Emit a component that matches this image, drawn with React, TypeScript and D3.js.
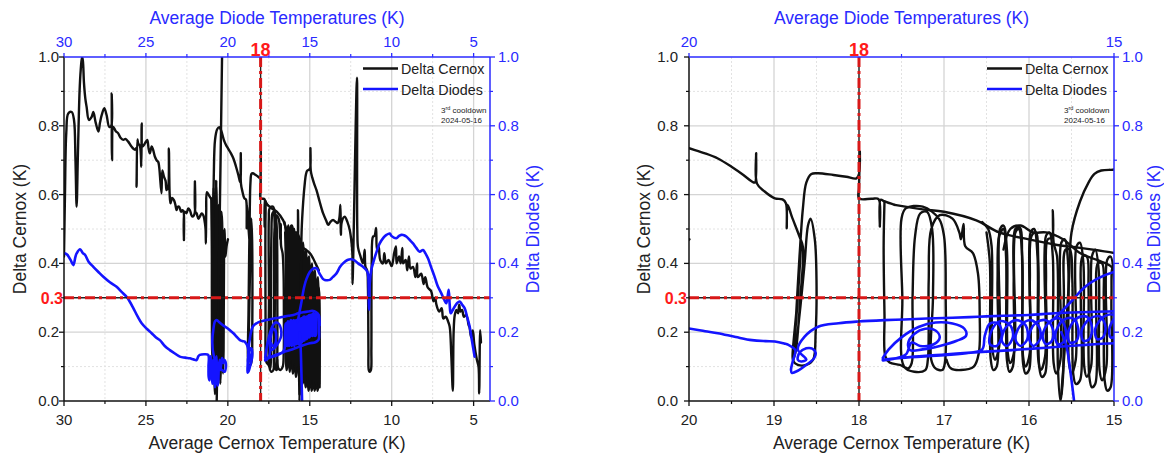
import React from 'react';
import * as d3 from 'd3';

type P = [number, number];

// ---------- Delta Cernox (black) : [Average Cernox T (K), Delta (K)] ----------
const cernoxMain: P[] = [
  [30.0, 0.42], [29.94, 0.6], [29.86, 0.78], [29.74, 0.836], [29.53, 0.84], [29.39, 0.817], [29.3, 0.7], [29.23, 0.565],
  [29.15, 0.72], [29.05, 0.9], [28.98, 0.962], [28.9, 1.0], [28.85, 0.99], [28.78, 0.924], [28.7, 0.88], [28.62, 0.855],
  [28.48, 0.817], [28.31, 0.826], [28.21, 0.84], [28.07, 0.81], [27.9, 0.783], [27.8, 0.81], [27.7, 0.831], [27.54, 0.851],
  [27.4, 0.831], [27.24, 0.797], [27.12, 0.8], [27.09, 0.894], [27.07, 0.7], [26.99, 0.797], [26.85, 0.785], [26.69, 0.778],
  [26.55, 0.765], [26.38, 0.759], [26.25, 0.762], [26.08, 0.754], [25.87, 0.739], [25.67, 0.73], [25.6, 0.735], [25.57, 0.623],
  [25.52, 0.76], [25.47, 0.749], [25.36, 0.74], [25.28, 0.681], [25.26, 0.807], [25.2, 0.74], [25.06, 0.749], [24.92, 0.759],
  [24.84, 0.735], [24.76, 0.72], [24.65, 0.74], [24.56, 0.73], [24.45, 0.71], [24.35, 0.7], [24.25, 0.695], [24.19, 0.68],
  [24.05, 0.604], [24.0, 0.67], [23.9, 0.652], [23.8, 0.64], [23.74, 0.613], [23.65, 0.62], [23.6, 0.734], [23.55, 0.6],
  [23.5, 0.575], [23.4, 0.59], [23.29, 0.584], [23.2, 0.57], [23.13, 0.555], [23.05, 0.565], [22.97, 0.565], [22.85, 0.55],
  [22.76, 0.555], [22.7, 0.55], [22.68, 0.468], [22.64, 0.55], [22.52, 0.546], [22.42, 0.56], [22.32, 0.555], [22.22, 0.54],
  [22.15, 0.536], [22.03, 0.545], [22.01, 0.638], [21.98, 0.55], [21.91, 0.546], [21.8, 0.53], [21.71, 0.536], [21.6, 0.545],
  [21.5, 0.54], [21.4, 0.517], [21.36, 0.5], [21.34, 0.458], [21.32, 0.55], [21.28, 0.607], [21.18, 0.6], [21.05, 0.59], [21.01, 0.588],
];
const cernoxOsc: P[] = [
  [21.01, 0.588], [20.98, 0.45], [20.96, 0.15], [20.93, 0.12], [20.9, 0.35], [20.87, 0.62], [20.84, 0.58], [20.82, 0.25],
  [20.79, 0.02], [20.75, 0.04], [20.73, 0.35], [20.71, 0.64], [20.68, 0.58], [20.66, 0.2], [20.63, 0.06], [20.6, 0.08],
  [20.58, 0.4], [20.56, 0.57], [20.52, 0.52], [20.49, 0.15], [20.46, 0.05], [20.43, 0.1], [20.41, 0.4], [20.39, 0.55],
  [20.35, 0.52], [20.32, 0.2], [20.29, 0.08], [20.26, 0.15], [20.23, 0.45], [20.2, 0.5], [20.15, 0.42], [20.08, 0.45], [19.995, 0.47],
];
const cernoxSpike: P[] = [[20.68, 0.0], [20.5, 0.52], [20.33, 1.08]];
const cernoxHump: P[] = [
  [20.92, 0.45], [20.86, 0.65], [20.78, 0.76], [20.65, 0.79], [20.52, 0.796], [20.4, 0.785], [20.25, 0.76], [20.12, 0.745],
  [20.0, 0.735], [19.81, 0.72], [19.66, 0.705], [19.5, 0.681], [19.36, 0.657], [19.26, 0.638], [19.225, 0.635], [19.21, 0.72],
  [19.2, 0.632], [19.11, 0.609], [18.99, 0.589], [18.9, 0.586], [18.86, 0.575], [18.85, 0.502], [18.84, 0.57], [18.79, 0.536],
  [18.7, 0.478], [18.66, 0.448], [18.69, 0.3], [18.74, 0.15], [18.77, 0.115], [18.72, 0.105], [18.62, 0.105], [18.54, 0.12],
  [18.51, 0.2], [18.5, 0.35], [18.52, 0.47], [18.57, 0.53], [18.6, 0.51], [18.64, 0.4], [18.7, 0.25], [18.76, 0.13],
  [18.78, 0.12], [18.73, 0.28], [18.68, 0.46], [18.72, 0.3], [18.77, 0.14], [18.74, 0.25], [18.7, 0.42], [18.66, 0.56],
  [18.62, 0.635], [18.56, 0.66], [18.48, 0.662], [18.3, 0.657], [18.15, 0.652], [18.03, 0.647], [18.0, 0.66], [17.99, 0.725],
  [18.0, 0.62], [18.0, 0.589], [17.85, 0.588], [17.77, 0.587], [17.755, 0.507], [17.745, 0.585], [17.7, 0.58], [17.58, 0.57],
];
const cernoxMid: P[] = [
  [17.7, 0.58], [17.71, 0.45], [17.7, 0.25], [17.69, 0.13], [17.64, 0.112], [17.52, 0.105], [17.42, 0.095], [17.38, 0.11],
  [17.37, 0.3], [17.34, 0.48], [17.28, 0.545], [17.2, 0.55], [17.14, 0.5], [17.13, 0.3], [17.15, 0.12], [17.1, 0.095],
  [17.02, 0.09], [16.99, 0.11], [16.98, 0.3], [17.0, 0.48], [17.06, 0.53], [17.25, 0.565], [17.45, 0.56], [17.5, 0.53],
  [17.49, 0.3], [17.47, 0.1], [17.35, 0.085], [17.22, 0.09], [17.19, 0.12], [17.18, 0.35], [17.15, 0.5], [17.05, 0.54],
  [16.9, 0.53], [16.82, 0.49], [16.8, 0.47], [16.77, 0.515], [16.75, 0.45], [16.66, 0.43], [16.6, 0.37], [16.58, 0.25],
  [16.59, 0.14], [16.65, 0.1], [16.8, 0.09], [16.92, 0.095], [16.97, 0.12],
];
const cernoxLong: P[] = [
  [17.58, 0.57], [17.25, 0.557], [17.0, 0.55], [16.62, 0.525], [16.35, 0.49], [16.0, 0.47], [15.7, 0.455], [15.4, 0.445],
  [15.0, 0.43], [14.8, 0.415], [14.6, 0.395], [14.45, 0.38],
];
const cernoxArc: P[] = [
  [16.3, 0.44], [16.22, 0.5], [16.1, 0.51], [15.95, 0.49], [15.8, 0.49], [15.6, 0.47], [15.4, 0.43], [15.2, 0.41], [15.03, 0.39], [14.98, 0.35],
];
const cernoxPass1: P[] = [
  [16.5, 0.49], [16.46, 0.4], [16.45, 0.12], [16.42, 0.09], [16.38, 0.1], [16.37, 0.35], [16.35, 0.48], [16.3, 0.5],
  [16.27, 0.42], [16.26, 0.12], [16.23, 0.085], [16.19, 0.1], [16.18, 0.35], [16.16, 0.5], [16.11, 0.505], [16.08, 0.4],
  [16.07, 0.11], [16.04, 0.08], [16.0, 0.09], [15.99, 0.35], [15.97, 0.48], [15.92, 0.49], [15.89, 0.4], [15.88, 0.1],
  [15.85, 0.07], [15.81, 0.08], [15.8, 0.35], [15.78, 0.47], [15.73, 0.475], [15.72, 0.555], [15.71, 0.46], [15.67, 0.42],
  [15.66, 0.1], [15.63, 0.0], [15.6, 0.07], [15.59, 0.3], [15.57, 0.44], [15.52, 0.44], [15.49, 0.35], [15.48, 0.08],
  [15.45, 0.05], [15.4, 0.06], [15.39, 0.3], [15.37, 0.42], [15.32, 0.42], [15.3, 0.33], [15.29, 0.07], [15.26, 0.04],
  [15.22, 0.05], [15.21, 0.3], [15.19, 0.4], [15.14, 0.4], [15.12, 0.3], [15.11, 0.06], [15.08, 0.03], [15.04, 0.04],
  [15.03, 0.3], [15.01, 0.39], [14.96, 0.38], [14.93, 0.3], [14.92, 0.06], [14.89, 0.03], [14.85, 0.04], [14.84, 0.3],
  [14.82, 0.37], [14.77, 0.36], [14.75, 0.28], [14.74, 0.05], [14.71, 0.03], [14.67, 0.04], [14.66, 0.28], [14.64, 0.35],
  [14.59, 0.34], [14.57, 0.25], [14.56, 0.05], [14.53, 0.03], [14.49, 0.04], [14.48, 0.25], [14.45, 0.33], [14.41, 0.3],
  [14.39, 0.15], [14.4, 0.04],
];
const cernoxPass2: P[] = [
  [14.43, 0.05], [14.46, 0.3], [14.5, 0.36], [14.54, 0.34], [14.55, 0.08], [14.6, 0.04], [14.63, 0.07], [14.64, 0.33],
  [14.68, 0.38], [14.72, 0.36], [14.73, 0.08], [14.78, 0.05], [14.81, 0.08], [14.82, 0.35], [14.86, 0.4], [14.9, 0.38],
  [14.91, 0.08], [14.96, 0.05], [14.99, 0.08], [15.0, 0.36], [15.04, 0.42], [15.08, 0.41], [15.09, 0.1], [15.14, 0.06],
  [15.17, 0.09], [15.18, 0.38], [15.22, 0.44], [15.26, 0.42], [15.27, 0.1], [15.32, 0.07], [15.35, 0.1], [15.36, 0.4],
  [15.4, 0.46], [15.44, 0.45], [15.45, 0.12], [15.5, 0.08], [15.53, 0.11], [15.54, 0.4], [15.58, 0.47], [15.62, 0.46],
  [15.63, 0.12], [15.68, 0.08], [15.71, 0.11], [15.72, 0.42], [15.76, 0.49], [15.8, 0.48], [15.81, 0.13], [15.86, 0.09],
  [15.89, 0.12], [15.9, 0.42], [15.94, 0.5], [15.98, 0.49], [15.99, 0.14], [16.04, 0.1], [16.07, 0.13], [16.08, 0.42],
  [16.12, 0.5], [16.16, 0.49], [16.17, 0.15], [16.22, 0.11], [16.25, 0.14], [16.26, 0.44], [16.3, 0.51], [16.34, 0.5],
  [16.35, 0.16], [16.4, 0.12], [16.43, 0.15], [16.44, 0.45], [16.48, 0.5], [16.55, 0.52],
];
const cernoxRise: P[] = [
  [15.62, 0.02], [15.58, 0.15], [15.53, 0.35], [15.5, 0.49], [15.4, 0.58], [15.3, 0.635], [15.23, 0.66], [15.15, 0.67], [15.05, 0.672],
];
const cernoxTail: P[] = [
  [15.05, 0.672], [14.98, 0.676], [14.96, 0.735], [14.94, 0.67], [14.85, 0.65], [14.72, 0.63], [14.59, 0.613], [14.4, 0.58],
  [14.19, 0.546], [14.0, 0.525], [13.88, 0.512], [13.75, 0.52], [13.58, 0.526], [13.4, 0.52], [13.3, 0.517], [13.2, 0.53],
  [13.13, 0.57], [13.11, 0.5], [13.1, 0.483], [13.05, 0.52], [12.87, 0.536], [12.7, 0.52], [12.56, 0.497], [12.45, 0.46],
  [12.4, 0.429], [12.39, 0.34], [12.12, 0.94], [12.1, 0.5], [12.05, 0.445], [11.9, 0.42], [11.75, 0.4], [11.65, 0.44],
  [11.6, 0.39], [11.5, 0.38], [11.45, 0.33], [11.42, 0.15], [11.4, 0.09], [11.35, 0.085], [11.27, 0.09], [11.24, 0.15],
  [11.22, 0.4], [11.14, 0.478], [11.05, 0.48], [10.95, 0.503], [10.9, 0.44], [10.8, 0.45], [10.7, 0.41], [10.53, 0.4],
  [10.45, 0.43], [10.35, 0.4], [10.2, 0.41], [10.0, 0.392], [9.85, 0.43], [9.74, 0.449], [9.7, 0.4], [9.55, 0.42],
  [9.45, 0.4], [9.35, 0.445], [9.3, 0.4], [9.15, 0.41], [9.05, 0.38], [8.95, 0.42], [8.85, 0.385], [8.7, 0.39],
  [8.55, 0.36], [8.45, 0.4], [8.4, 0.36], [8.2, 0.37], [8.05, 0.34], [7.95, 0.36], [7.8, 0.33], [7.6, 0.32],
  [7.45, 0.29], [7.35, 0.3], [7.27, 0.28], [7.1, 0.26], [6.95, 0.27], [6.85, 0.24], [6.7, 0.245], [6.55, 0.23],
  [6.46, 0.216], [6.36, 0.13], [6.27, 0.03], [6.22, 0.2], [6.15, 0.25], [6.05, 0.265], [5.95, 0.255], [5.88, 0.28],
  [5.8, 0.26], [5.7, 0.265], [5.6, 0.245], [5.45, 0.25], [5.3, 0.22], [5.25, 0.215], [5.15, 0.185], [5.05, 0.205],
  [4.96, 0.165], [4.8, 0.12], [4.7, 0.1], [4.66, 0.022], [4.6, 0.206], [4.55, 0.17],
];

// ---------- Delta Diodes (blue) ----------
const diodeMain: P[] = [
  [30.0, 0.43], [29.94, 0.429], [29.8, 0.425], [29.6, 0.41], [29.43, 0.395], [29.3, 0.42], [29.23, 0.429], [29.02, 0.441],
  [28.85, 0.43], [28.72, 0.425], [28.5, 0.405], [28.21, 0.39], [27.9, 0.375], [27.6, 0.361], [27.2, 0.345], [26.79, 0.332],
  [26.5, 0.318], [26.18, 0.303], [26.0, 0.29], [25.77, 0.27], [25.5, 0.245], [25.26, 0.226], [24.95, 0.21], [24.65, 0.197],
  [24.4, 0.185], [24.15, 0.177], [23.85, 0.16], [23.54, 0.148], [23.2, 0.137], [22.93, 0.129], [22.6, 0.126], [22.32, 0.124],
  [22.1, 0.121], [21.91, 0.119], [21.8, 0.13], [21.71, 0.134], [21.45, 0.136], [21.2, 0.134],
  [21.18, 0.1], [21.17, 0.07], [21.12, 0.06], [21.08, 0.09], [21.06, 0.13], [21.02, 0.12], [20.98, 0.07], [20.94, 0.05],
  [20.9, 0.07], [20.88, 0.12], [20.85, 0.1], [20.82, 0.06], [20.78, 0.04], [20.74, 0.06], [20.72, 0.11], [20.69, 0.13],
  [20.66, 0.08], [20.62, 0.045], [20.58, 0.06], [20.55, 0.1], [20.5, 0.12], [20.45, 0.09], [20.4, 0.11], [20.35, 0.125],
  [20.28, 0.11], [20.22, 0.12], [20.15, 0.115], [20.12, 0.1], [20.2, 0.085], [20.35, 0.09], [20.6, 0.1], [20.85, 0.13],
  [20.95, 0.17], [20.88, 0.21], [20.78, 0.232], [20.68, 0.235], [20.5, 0.228], [20.3, 0.22], [20.0, 0.211], [19.81, 0.203],
  [19.66, 0.197], [19.45, 0.186], [19.26, 0.177], [19.1, 0.174], [18.99, 0.173], [18.88, 0.167], [18.83, 0.163], [18.75, 0.148],
  [18.78, 0.115], [18.8, 0.09], [18.79, 0.082], [18.72, 0.088], [18.62, 0.105], [18.53, 0.124], [18.51, 0.14], [18.55, 0.152],
  [18.62, 0.153], [18.7, 0.14], [18.72, 0.12], [18.68, 0.115], [18.62, 0.12], [18.72, 0.15], [18.64, 0.187], [18.48, 0.216],
  [18.24, 0.226], [18.01, 0.231], [17.7, 0.235], [17.47, 0.237], [17.2, 0.24], [16.9, 0.242], [16.6, 0.245], [16.3, 0.248],
  [16.0, 0.25], [15.7, 0.255], [15.4, 0.258], [15.1, 0.26], [14.85, 0.262], [14.6, 0.258], [14.45, 0.25], [14.4, 0.22],
];
const diodeLoops: P[] = [
  [17.72, 0.125], [17.65, 0.15], [17.5, 0.185], [17.3, 0.215], [17.1, 0.228], [16.9, 0.225], [16.76, 0.21], [16.74, 0.19],
  [16.85, 0.175], [17.05, 0.16], [17.25, 0.15], [17.4, 0.148], [17.42, 0.17], [17.35, 0.195], [17.22, 0.21], [17.1, 0.205],
  [17.05, 0.185], [17.12, 0.165], [17.28, 0.16], [17.38, 0.17], [17.45, 0.135], [17.6, 0.122], [17.72, 0.118], [17.5, 0.125],
  [17.0, 0.133], [16.7, 0.14], [16.55, 0.15], [16.52, 0.19], [16.46, 0.225], [16.36, 0.225], [16.32, 0.19], [16.38, 0.16],
  [16.46, 0.165], [16.44, 0.205], [16.34, 0.232], [16.22, 0.22], [16.19, 0.185], [16.26, 0.16], [16.32, 0.175], [16.27, 0.215],
  [16.15, 0.235], [16.04, 0.22], [16.02, 0.18], [16.1, 0.16], [16.16, 0.18], [16.1, 0.22], [15.98, 0.235], [15.88, 0.215],
  [15.87, 0.18], [15.95, 0.16], [16.0, 0.185], [15.93, 0.225], [15.8, 0.235], [15.72, 0.21], [15.73, 0.175], [15.8, 0.165],
  [15.84, 0.19], [15.76, 0.23], [15.64, 0.24], [15.57, 0.21], [15.58, 0.175], [15.66, 0.165], [15.69, 0.195], [15.6, 0.235],
  [15.48, 0.24], [15.42, 0.21], [15.44, 0.175], [15.52, 0.17], [15.54, 0.2], [15.44, 0.24], [15.32, 0.245], [15.26, 0.215],
  [15.29, 0.18], [15.36, 0.175], [15.38, 0.205], [15.28, 0.24], [15.16, 0.245], [15.1, 0.215], [15.13, 0.185], [15.2, 0.18],
  [15.22, 0.21], [15.12, 0.245], [15.0, 0.25], [14.94, 0.22], [14.97, 0.19], [15.04, 0.185], [15.05, 0.215], [14.95, 0.25],
  [14.82, 0.25], [14.77, 0.22], [14.8, 0.19], [14.88, 0.19], [14.88, 0.22], [14.78, 0.255], [14.66, 0.25], [14.61, 0.22],
  [14.64, 0.19], [14.71, 0.19], [14.7, 0.225], [14.58, 0.255], [14.48, 0.245], [14.43, 0.21], [14.45, 0.18], [14.52, 0.175],
  [14.7, 0.17], [15.0, 0.168], [15.4, 0.162], [15.8, 0.155], [16.2, 0.148], [16.6, 0.142], [17.0, 0.135], [17.4, 0.128], [17.72, 0.12],
];
const diodeDrop: P[] = [[15.62, 0.2], [15.56, 0.16], [15.51, 0.08], [15.47, 0.0]];
const diodeTail: P[] = [
  [15.75, 0.23], [15.68, 0.245], [15.5, 0.29], [15.35, 0.33], [15.2, 0.355], [15.0, 0.375], [14.8, 0.385], [14.59, 0.386],
  [14.4, 0.37], [14.2, 0.355], [14.09, 0.352], [13.78, 0.352], [13.6, 0.36], [13.37, 0.371], [13.15, 0.39], [12.97, 0.4],
  [12.7, 0.41], [12.46, 0.412], [12.25, 0.408], [12.05, 0.4], [11.75, 0.39], [11.55, 0.381], [11.45, 0.37], [11.4, 0.3],
  [11.38, 0.265], [11.36, 0.3], [11.34, 0.342], [11.25, 0.38], [11.14, 0.4], [10.95, 0.43], [10.73, 0.458], [10.5, 0.475],
  [10.32, 0.483], [10.12, 0.487], [10.02, 0.48], [9.72, 0.473], [9.55, 0.48], [9.41, 0.483], [9.25, 0.482], [9.11, 0.478],
  [8.9, 0.468], [8.7, 0.458], [8.5, 0.445], [8.29, 0.434], [8.09, 0.439], [7.95, 0.43], [7.78, 0.414], [7.6, 0.39],
  [7.38, 0.361], [7.2, 0.335], [6.97, 0.313], [6.8, 0.295], [6.67, 0.284], [6.6, 0.3], [6.52, 0.323], [6.46, 0.28],
  [6.4, 0.255], [6.3, 0.262], [6.16, 0.274], [6.0, 0.285], [5.85, 0.289], [5.7, 0.28], [5.55, 0.27], [5.4, 0.245],
  [5.24, 0.216], [5.1, 0.175], [4.94, 0.129],
];

const cernoxSeries = [cernoxMain, cernoxOsc, cernoxSpike, cernoxHump, cernoxMid, cernoxLong, cernoxArc, cernoxPass1, cernoxPass2, cernoxRise, cernoxTail];
const diodeSeries = [diodeMain, diodeLoops, diodeDrop, diodeTail];

// ---------- axes ----------
const yMajor = [0, 0.2, 0.4, 0.6, 0.8, 1.0];
const yMinor = [0.1, 0.3, 0.5, 0.7, 0.9];
const leftXMajor = [30, 25, 20, 15, 10, 5];
const leftXMinor = [27.5, 22.5, 17.5, 12.5, 7.5];
const rightXMajor = [20, 19, 18, 17, 16, 15];
const rightXMinor = [19.5, 18.5, 17.5, 16.5, 15.5];
const rightTopLabels = [20, 15];
const rightTopMinor = [17.5];
const markerT = 18;
const markerV = 0.3;

const BLACK = '#111';
const BLUE = '#1414ff';
const AXBLUE = '#2a2aff';
const RED = '#ff1a1a';
const FONT = '"Liberation Sans", Arial, Helvetica, sans-serif';
const Y_TOP = 57;
const Y_BOT = 401;

type Cfg = {
  id: string; x0: number; x1: number; domain: [number, number];
  bMajor: number[]; bMinor: number[]; tLabels: number[]; tTicks: number[]; tMinor: number[];
  yLabelRight: number; leftTitleX: number; rightTitleX: number; legendX: number; noteX: number; threeX: number;
};

const panels: Cfg[] = [
  { id: 'L', x0: 64, x1: 490, domain: [30, 4], bMajor: leftXMajor, bMinor: leftXMinor, tLabels: leftXMajor, tTicks: leftXMajor, tMinor: leftXMinor,
    yLabelRight: 59, leftTitleX: 20, rightTitleX: 533, legendX: 363, noteX: 441, threeX: 63 },
  { id: 'R', x0: 689, x1: 1114, domain: [20, 15], bMajor: rightXMajor, bMinor: rightXMinor, tLabels: rightTopLabels, tTicks: rightTopLabels, tMinor: rightTopMinor,
    yLabelRight: 678, leftTitleX: 644, rightTitleX: 1154, legendX: 987, noteX: 1064, threeX: 687 },
];

function Panel({ c }: { c: Cfg }) {
  const x = d3.scaleLinear().domain(c.domain).range([c.x0, c.x1]);
  const y = d3.scaleLinear().domain([0, 1]).range([Y_BOT, Y_TOP]);
  const line = d3.line<P>().x(d => x(d[0])).y(d => y(d[1])).curve(d3.curveCatmullRom.alpha(0.5));
  const fmt = d3.format('.1f');
  const cx = (c.x0 + c.x1) / 2;
  const cy = (Y_TOP + Y_BOT) / 2;
  const clip = `clip-${c.id}`;
  return (
    <g>
      <defs>
        <clipPath id={clip}><rect x={c.x0} y={Y_TOP} width={c.x1 - c.x0} height={Y_BOT - Y_TOP} /></clipPath>
      </defs>
      {/* grid */}
      {yMinor.map(v => <line key={'gy' + v} x1={c.x0} x2={c.x1} y1={y(v)} y2={y(v)} stroke="#e2e2e2" strokeWidth={1} strokeDasharray="2,2" />)}
      {c.bMinor.map(v => <line key={'gx' + v} x1={x(v)} x2={x(v)} y1={Y_TOP} y2={Y_BOT} stroke="#e2e2e2" strokeWidth={1} strokeDasharray="2,2" />)}
      {yMajor.filter(v => v > 0 && v < 1).map(v => <line key={'Gy' + v} x1={c.x0} x2={c.x1} y1={y(v)} y2={y(v)} stroke="#d4d4d4" strokeWidth={1.3} />)}
      {c.bMajor.filter(v => x(v) > c.x0 + 1 && x(v) < c.x1 - 1).map(v => <line key={'Gx' + v} x1={x(v)} x2={x(v)} y1={Y_TOP} y2={Y_BOT} stroke="#d4d4d4" strokeWidth={1.3} />)}
      {/* data */}
      <g clipPath={`url(#${clip})`} fill="none" strokeLinejoin="round" strokeLinecap="round">
        {cernoxSeries.map((s, i) => <path key={'c' + i} d={line(s) || ''} stroke={BLACK} strokeWidth={2.4} />)}
        {diodeSeries.map((s, i) => <path key={'d' + i} d={line(s) || ''} stroke={BLUE} strokeWidth={2.6} />)}
        {/* markers */}
        <line x1={c.x0} x2={c.x1} y1={y(markerV)} y2={y(markerV)} stroke="#222" strokeWidth={1.4} />
        <line x1={c.x0} x2={c.x1} y1={y(markerV)} y2={y(markerV)} stroke="#d81818" strokeWidth={3} strokeDasharray="10,4,3,4" strokeLinecap="butt" />
        <line x1={x(markerT)} x2={x(markerT)} y1={Y_TOP} y2={Y_BOT} stroke="#222" strokeWidth={1.4} />
        <line x1={x(markerT)} x2={x(markerT)} y1={Y_TOP} y2={Y_BOT} stroke="#d81818" strokeWidth={3} strokeDasharray="10,4,3,4" strokeLinecap="butt" />
      </g>
      {/* axes lines */}
      <line x1={c.x0} x2={c.x0} y1={Y_TOP} y2={Y_BOT} stroke={BLACK} strokeWidth={1.5} />
      <line x1={c.x0} x2={c.x1} y1={Y_BOT} y2={Y_BOT} stroke={BLACK} strokeWidth={1.5} />
      <line x1={c.x0} x2={c.x1} y1={Y_TOP} y2={Y_TOP} stroke={AXBLUE} strokeWidth={1.5} />
      <line x1={c.x1} x2={c.x1} y1={Y_TOP} y2={Y_BOT} stroke={AXBLUE} strokeWidth={1.5} />
      {/* bottom ticks */}
      {c.bMajor.map(v => <line key={'bt' + v} x1={x(v)} x2={x(v)} y1={Y_BOT} y2={Y_BOT + 5} stroke={BLACK} strokeWidth={1.3} />)}
      {c.bMinor.map(v => <line key={'bm' + v} x1={x(v)} x2={x(v)} y1={Y_BOT} y2={Y_BOT + 3} stroke={BLACK} strokeWidth={1.2} />)}
      {c.bMajor.map(v => <text key={'bl' + v} x={x(v)} y={425} textAnchor="middle" fontSize={15} fill="#222">{v}</text>)}
      {/* top ticks */}
      {c.tTicks.map(v => <line key={'tt' + v} x1={x(v)} x2={x(v)} y1={Y_TOP} y2={Y_TOP - 4} stroke={AXBLUE} strokeWidth={1.3} />)}
      {c.tMinor.map(v => <line key={'tm' + v} x1={x(v)} x2={x(v)} y1={Y_TOP} y2={Y_TOP - 3} stroke={AXBLUE} strokeWidth={1.2} />)}
      {c.tLabels.map(v => <text key={'tl' + v} x={x(v)} y={47} textAnchor="middle" fontSize={15} fill={AXBLUE}>{v}</text>)}
      {/* left ticks */}
      {yMajor.map(v => <line key={'lt' + v} x1={c.x0 - 5} x2={c.x0} y1={y(v)} y2={y(v)} stroke={BLACK} strokeWidth={1.3} />)}
      {yMinor.map(v => <line key={'lm' + v} x1={c.x0 - 3} x2={c.x0} y1={y(v)} y2={y(v)} stroke={BLACK} strokeWidth={1.2} />)}
      {yMajor.map(v => <text key={'ll' + v} x={c.yLabelRight} y={y(v) + 5} textAnchor="end" fontSize={15} fill="#222">{fmt(v)}</text>)}
      {/* right ticks */}
      {yMajor.map(v => <line key={'rt' + v} x1={c.x1} x2={c.x1 + 5} y1={y(v)} y2={y(v)} stroke={AXBLUE} strokeWidth={1.3} />)}
      {yMinor.map(v => <line key={'rm' + v} x1={c.x1} x2={c.x1 + 3} y1={y(v)} y2={y(v)} stroke={AXBLUE} strokeWidth={1.2} />)}
      {yMajor.map(v => <text key={'rl' + v} x={c.x1 + 8} y={y(v) + 5} textAnchor="start" fontSize={15} fill={AXBLUE}>{fmt(v)}</text>)}
      {/* titles */}
      <text x={cx} y={24} textAnchor="middle" fontSize={17.5} fill={AXBLUE}>Average Diode Temperatures (K)</text>
      <text x={cx} y={449} textAnchor="middle" fontSize={17.5} fill="#222">Average Cernox Temperature (K)</text>
      <text transform={`translate(${c.leftTitleX + 6},${cy}) rotate(-90)`} textAnchor="middle" fontSize={17.5} fill="#222">Delta Cernox (K)</text>
      <text transform={`translate(${c.rightTitleX + 6},${cy}) rotate(-90)`} textAnchor="middle" fontSize={17.5} fill={AXBLUE}>Delta Diodes (K)</text>
      {/* marker labels */}
      <text x={x(markerT)} y={56} textAnchor="middle" fontSize={18} fontWeight="bold" fill={RED}>{markerT}</text>
      <text x={c.threeX} y={y(markerV) + 6} textAnchor="end" fontSize={16} fontWeight="bold" fill={RED}>{markerV}</text>
      {/* legend */}
      <line x1={c.legendX} x2={c.legendX + 35} y1={68.5} y2={68.5} stroke={BLACK} strokeWidth={2.5} />
      <text x={c.legendX + 38} y={74} fontSize={14.3} fill="#222">Delta Cernox</text>
      <line x1={c.legendX} x2={c.legendX + 35} y1={89} y2={89} stroke={BLUE} strokeWidth={2.5} />
      <text x={c.legendX + 38} y={95} fontSize={14.3} fill="#222">Delta Diodes</text>
      <text x={c.noteX} y={113} fontSize={8} fill="#222">3<tspan dy={-3} fontSize={5.5}>rd</tspan><tspan dy={3}> cooldown</tspan></text>
      <text x={c.noteX} y={123} fontSize={8} fill="#222">2024-05-16</text>
    </g>
  );
}

export default function App() {
  return (
    <svg width={1164} height={457} viewBox="0 0 1164 457"
      style={{ position: 'absolute', left: 0, top: 0, background: '#fff', fontFamily: FONT }}>
      <rect x={0} y={0} width={1164} height={457} fill="#fff" />
      {panels.map(c => <Panel key={c.id} c={c} />)}
    </svg>
  );
}
